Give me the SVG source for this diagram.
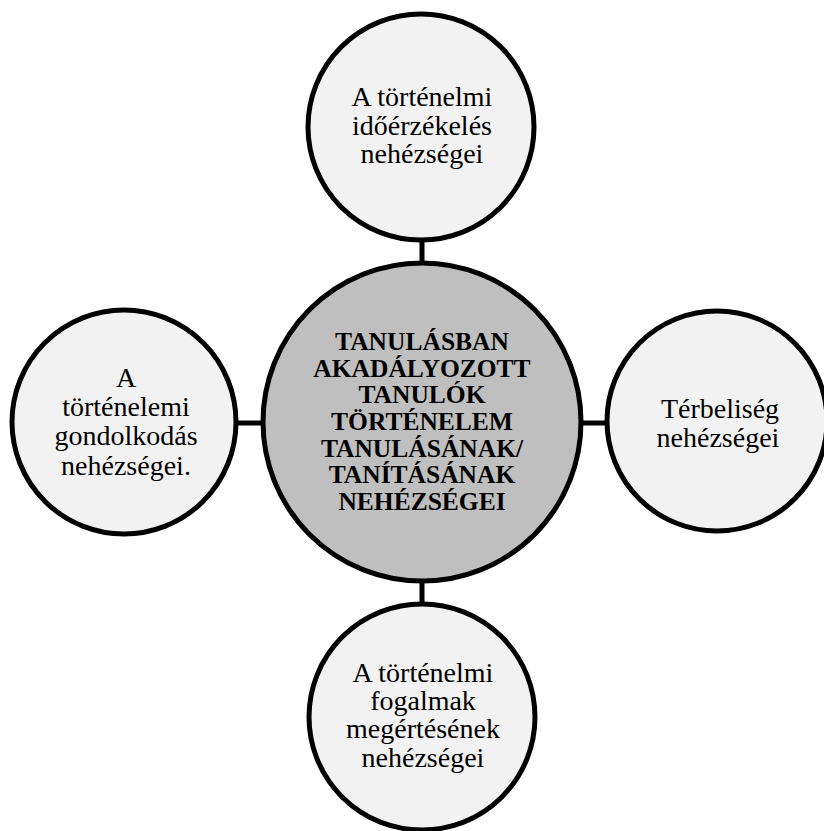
<svg xmlns="http://www.w3.org/2000/svg" width="824" height="831" viewBox="0 0 824 831">
<style>
.sat{fill:#f2f2f2;stroke:#000;stroke-width:5}
.hub{fill:#bfbfbf;stroke:#000;stroke-width:5}
.lbl{font-family:"Liberation Serif","Times New Roman",serif;font-size:28px;fill:#000;text-anchor:middle}
.hl{font-family:"Liberation Serif","Times New Roman",serif;font-size:25.5px;font-weight:bold;fill:#000;text-anchor:middle}
.con{stroke:#000;stroke-width:5;fill:none}
</style>
<rect width="824" height="831" fill="#fff"/>
<g id="connectors">
<line class="con" x1="422" y1="238" x2="422" y2="265"/>
<line class="con" x1="422" y1="579" x2="422" y2="607"/>
<line class="con" x1="234" y1="423" x2="264" y2="423"/>
<line class="con" x1="580" y1="423" x2="610" y2="423"/>
</g>
<g id="center">
<circle class="hub" cx="422" cy="422" r="159"/>
<text class="hl" x="422" y="350">TANULÁSBAN</text>
<text class="hl" x="422" y="377">AKADÁLYOZOTT</text>
<text class="hl" x="422" y="403">TANULÓK</text>
<text class="hl" x="422" y="430">TÖRTÉNELEM</text>
<text class="hl" x="422" y="457">TANULÁSÁNAK/</text>
<text class="hl" x="422" y="483">TANÍTÁSÁNAK</text>
<text class="hl" x="422" y="510">NEHÉZSÉGEI</text>
</g>
<g id="top">
<circle class="sat" cx="421" cy="127" r="113"/>
<text class="lbl" x="422" y="106">A történelmi</text>
<text class="lbl" x="422" y="135">időérzékelés</text>
<text class="lbl" x="422" y="163">nehézségei</text>
</g>
<g id="left">
<circle class="sat" cx="124" cy="422" r="112"/>
<text class="lbl" x="126" y="387">A</text>
<text class="lbl" x="126" y="416">történelemi</text>
<text class="lbl" x="126" y="445">gondolkodás</text>
<text class="lbl" x="126" y="475">nehézségei.</text>
</g>
<g id="right">
<circle class="sat" cx="717" cy="421" r="110"/>
<text class="lbl" x="720" y="418">Térbeliség</text>
<text class="lbl" x="718" y="447">nehézségei</text>
</g>
<g id="bottom">
<circle class="sat" cx="422" cy="717" r="113"/>
<text class="lbl" x="423" y="682">A történelmi</text>
<text class="lbl" x="423" y="710">fogalmak</text>
<text class="lbl" x="423" y="738">megértésének</text>
<text class="lbl" x="423" y="767">nehézségei</text>
</g>
</svg>
